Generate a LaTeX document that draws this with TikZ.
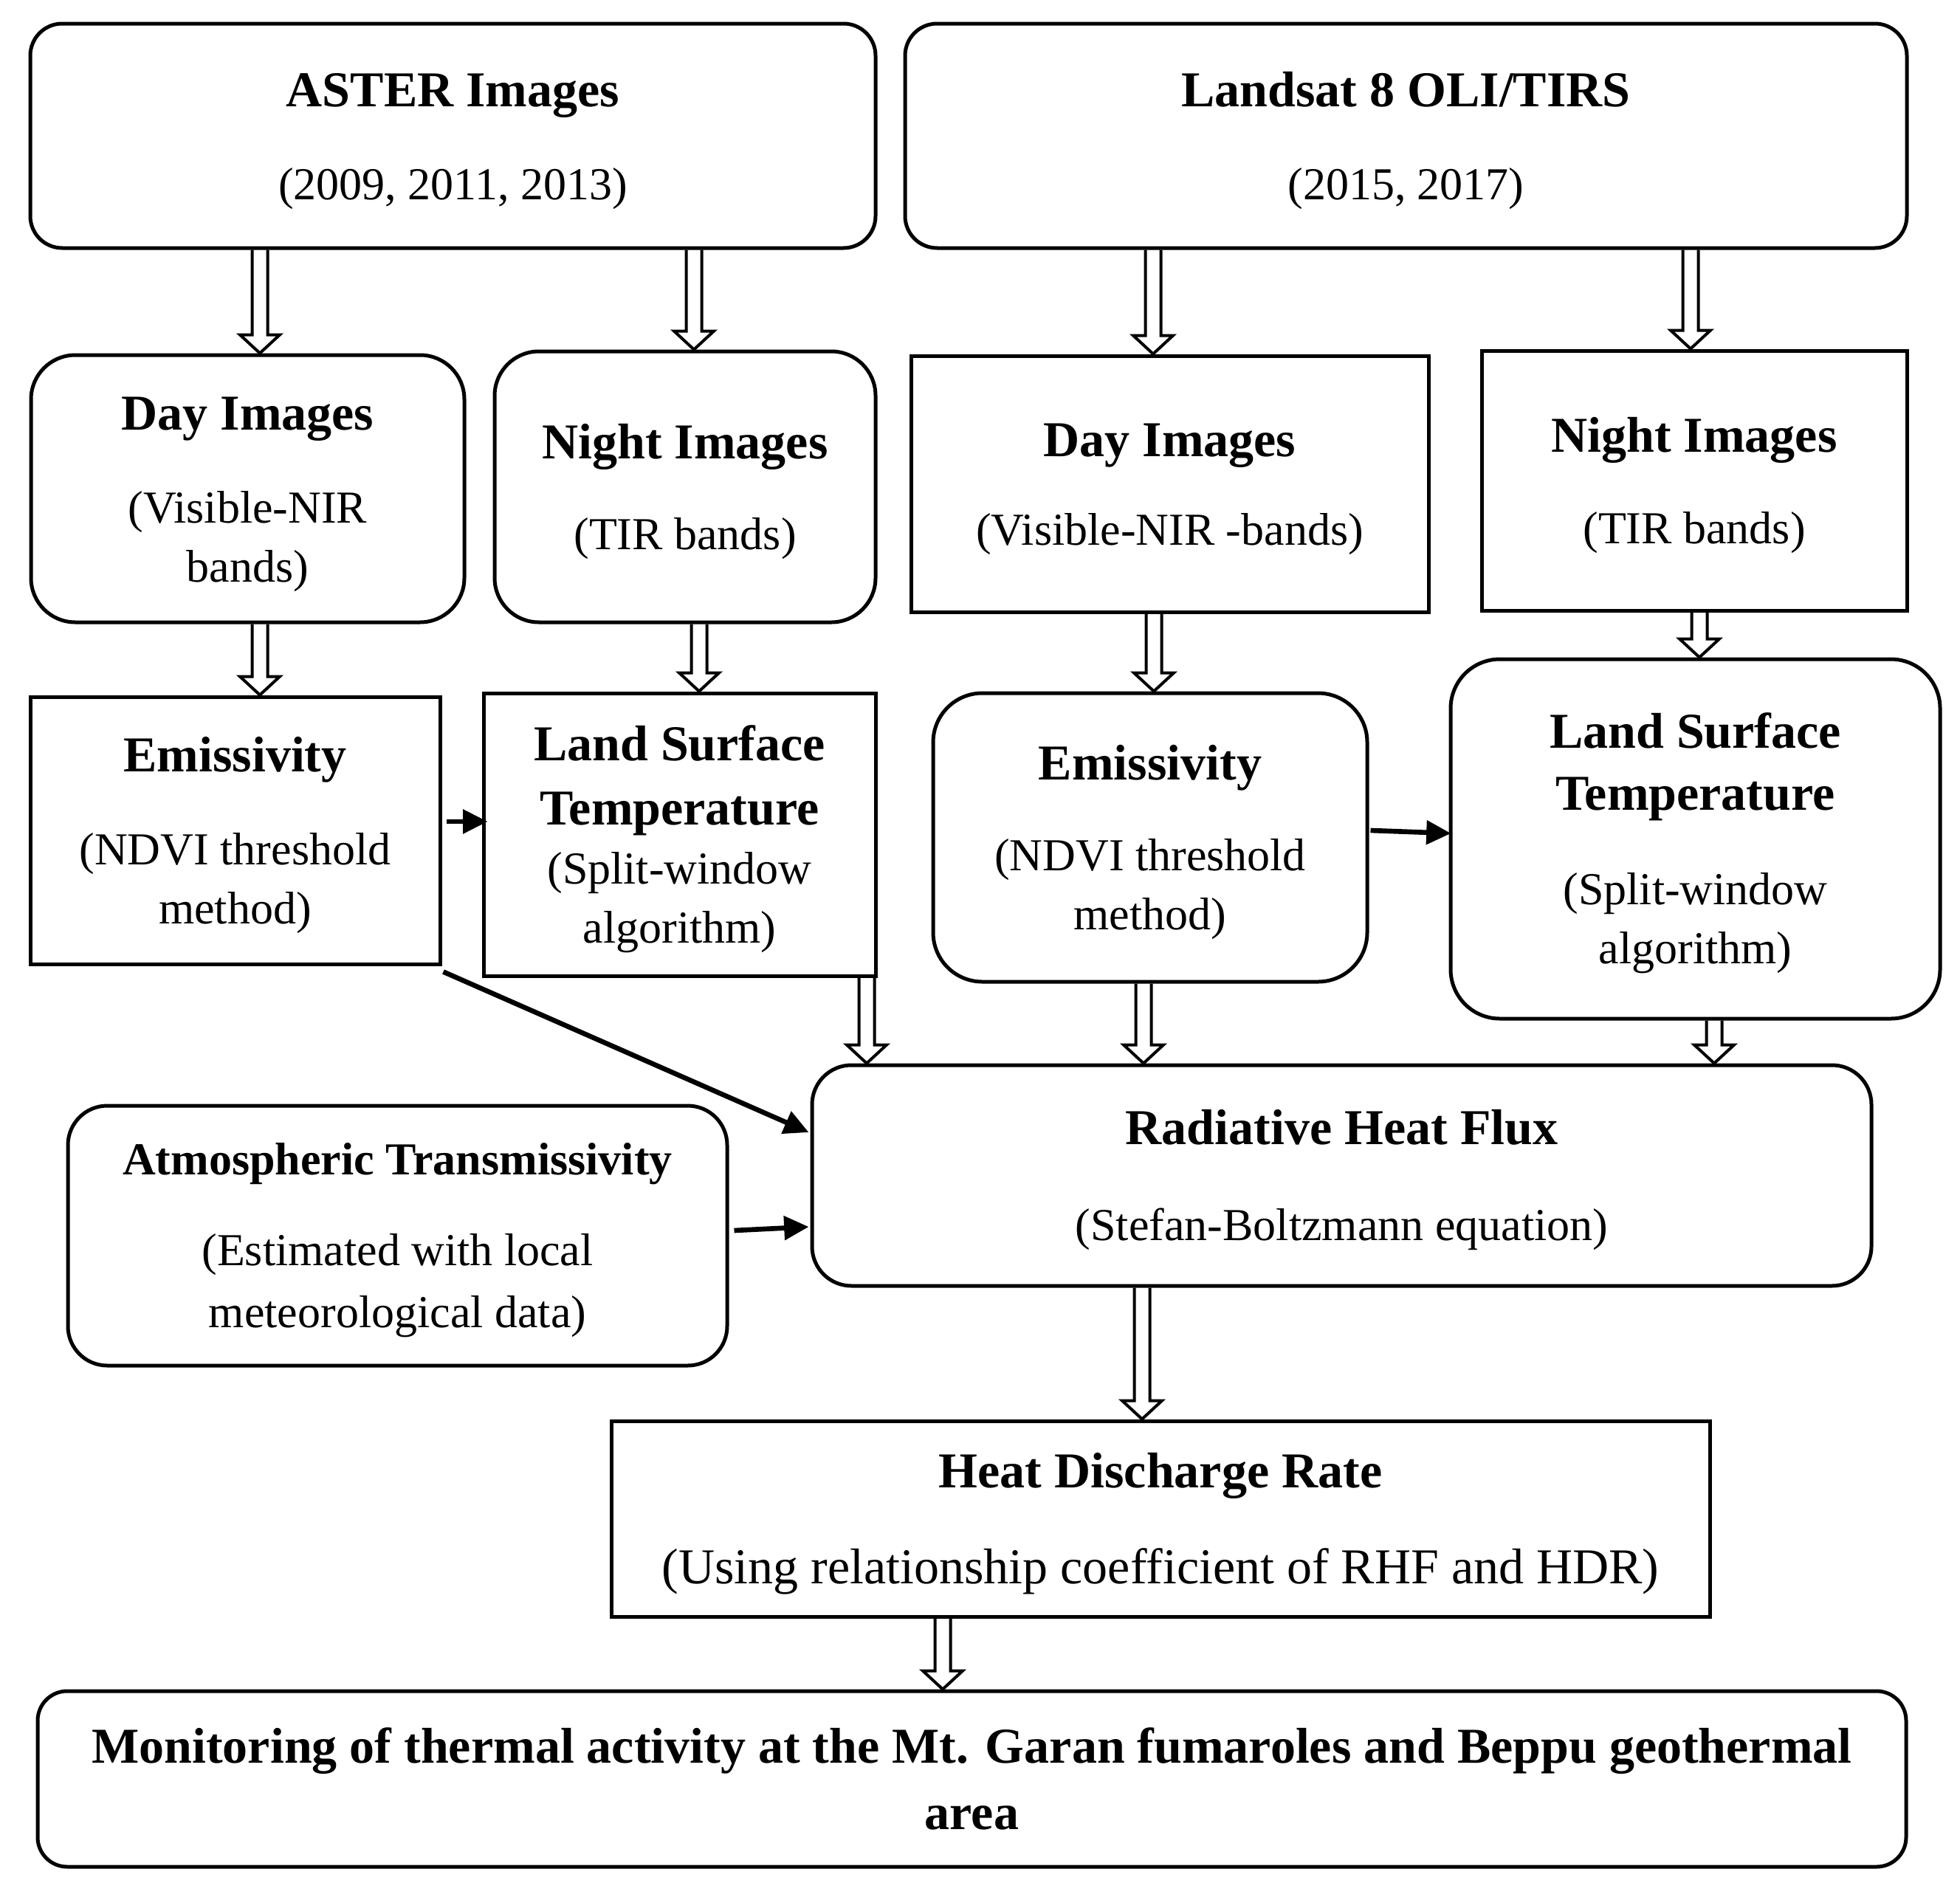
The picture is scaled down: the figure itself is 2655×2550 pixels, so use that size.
\documentclass[tikz,border=0pt]{standalone}
\usepackage{fontspec}
\setmainfont{Liberation Serif}
\usetikzlibrary{arrows.meta,calc}
\newcommand\ttl[1]{{\fontsize{20.4}{24}\selectfont\bfseries #1}}
\newcommand\ttlf[1]{{\fontsize{20.4}{24}\selectfont\bfseries\rule{0pt}{18pt}#1}}
\newcommand\hollowdown[3]{%
  \path (#1,0 |- #2) coordinate (ha) (#1,0 |- #3) coordinate (hb);
  \draw[hollow] ($(ha)+(-10.5,0)$) -- ($(hb)+(-10.5,-25)$) -- ($(hb)+(-27,-25)$) -- (hb)
     -- ($(hb)+(27,-25)$) -- ($(hb)+(10.5,-25)$) -- ($(ha)+(10.5,0)$);}
\begin{document}
\begin{tikzpicture}[x=0.3pt,y=-0.3pt,
  box/.style={draw, line width=1.5pt, inner sep=0pt, align=center,
              font=\fontsize{18.6}{24}\selectfont},
  rbox/.style={box, rounded corners=16pt},
  hollow/.style={draw, line width=1.2pt, line join=miter},
  solidarr/.style={line width=2pt, -{Triangle[length=10pt,width=9.5pt]}}]
\useasboundingbox (0,0) rectangle (2655,2550);

\node[rbox, rounded corners=13pt, minimum width=343.5pt, minimum height=91.2pt] (aster) at (613.5,184)
  {\ttlf{ASTER Images}\\[14pt](2009, 2011, 2013)};
\node[rbox, rounded corners=13pt, minimum width=407.1pt, minimum height=91.2pt] (landsat) at (1904.5,184)
  {\ttlf{Landsat 8 OLI/TIRS}\\[14pt](2015, 2017)};

\node[rbox, rounded corners=18pt, minimum width=176.1pt, minimum height=108.6pt] (dayA) at (335.5,662)
  {\ttlf{Day Images}\\[14pt](Visible-NIR\\bands)};
\node[rbox, rounded corners=18pt, minimum width=154.8pt, minimum height=110.1pt] (nightA) at (928,659.5)
  {\ttlf{Night Images}\\[13pt](TIR bands)};
\node[box, minimum width=210.3pt, minimum height=104.1pt] (dayL) at (1584.5,655.5)
  {\ttlf{Day Images}\\[12pt](Visible-NIR -bands)};
\node[box, minimum width=172.8pt, minimum height=105.6pt] (nightL) at (2295,651)
  {\ttlf{Night Images}\\[13pt](TIR bands)};

\node[box, minimum width=166.5pt, minimum height=108.6pt] (emisA) at (318.5,1125)
  {\ttlf{Emissivity}\\[14pt](NDVI threshold\\method)};
\node[box, minimum width=159.3pt, minimum height=114.9pt] (lstA) at (920.5,1130.5)
  {\ttlf{Land Surface}\\[2pt]\ttl{Temperature}\\[0pt](Split-window\\algorithm)};
\node[rbox, rounded corners=20pt, minimum width=176.4pt, minimum height=117.3pt] (emisL) at (1558,1134.5)
  {\ttlf{Emissivity}\\[13pt](NDVI threshold\\method)};
\node[rbox, rounded corners=20pt, minimum width=198.9pt, minimum height=146.1pt] (lstL) at (2296.5,1136.5)
  {\ttlf{Land Surface}\\[1pt]\ttl{Temperature}\\[14.5pt](Split-window\\algorithm)};

\node[rbox, minimum width=267.9pt, minimum height=105.6pt] (atmos) at (538.5,1674)
  {{\fontsize{18.6}{24}\selectfont\bfseries\rule{0pt}{16.5pt}Atmospheric Transmissivity}\\[13pt](Estimated with local\\[1pt]meteorological data)};
\node[rbox, minimum width=430.5pt, minimum height=89.7pt] (rhf) at (1817.5,1592.5)
  {\ttlf{Radiative Heat Flux}\\[15pt](Stefan-Boltzmann equation)};
\node[box, minimum width=446.4pt, minimum height=79.5pt] (hdr) at (1572,2057.5)
  {\ttlf{Heat Discharge Rate}\\[15pt]{\fontsize{20.4}{24}\selectfont(Using relationship coefficient of RHF and HDR)}};
\node[rbox, rounded corners=12pt, minimum width=759.3pt, minimum height=71.4pt] (mon) at (1316.5,2410)
  {\ttl{Monitoring of thermal activity at the Mt. Garan fumaroles and Beppu geothermal}\\[3pt]\ttl{area}};

% hollow block arrows
\hollowdown{352}{aster.south}{dayA.north}
\hollowdown{940}{aster.south}{nightA.north}
\hollowdown{1562}{landsat.south}{dayL.north}
\hollowdown{2290}{landsat.south}{nightL.north}
\hollowdown{352}{dayA.south}{emisA.north}
\hollowdown{947}{nightA.south}{lstA.north}
\hollowdown{1563}{dayL.south}{emisL.north}
\hollowdown{2302}{nightL.south}{lstL.north}
\hollowdown{1174}{lstA.south}{rhf.north}
\hollowdown{1549}{emisL.south}{rhf.north}
\hollowdown{2322}{lstL.south}{rhf.north}
\hollowdown{1547}{rhf.south}{hdr.north}
\hollowdown{1277}{hdr.south}{mon.north}

% solid arrows
\draw[solidarr] ($(emisA.east |- 0,1113)+(6,0)$) -- ($(lstA.west |- 0,1113)+(8,0)$);
\draw[solidarr] ($(emisL.east |- 0,1125)+(2,0)$) -- ($(lstL.west |- 0,1129)+(3,0)$);
\draw[solidarr] ($(emisA.south east)+(2,8)$) -- ($(rhf.west |- 0,1534)+(-2,0)$);
\draw[solidarr] ($(atmos.east |- 0,1667)+(7,0)$) -- ($(rhf.west |- 0,1662)+(-2,0)$);
\end{tikzpicture}
\end{document}
